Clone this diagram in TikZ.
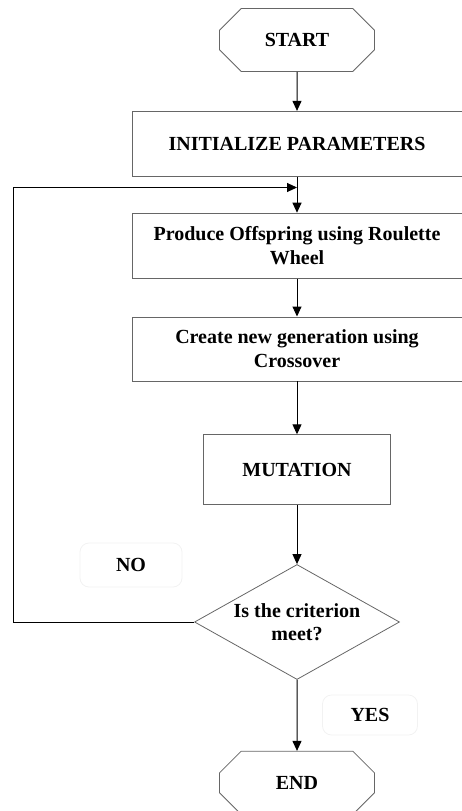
\documentclass[tikz,border=0pt]{standalone}
\usepackage{fontspec}
\setmainfont{Liberation Serif}
\usetikzlibrary{positioning,shapes.geometric,shapes.misc,arrows.meta,calc}

\newcommand{\lblfont}{\bfseries\fontsize{20}{23.5}\selectfont}

\tikzset{
  term/.style={chamfered rectangle, chamfered rectangle sep=15pt, draw=black!60, line width=0.8pt, minimum width=155pt, minimum height=63pt, inner sep=0pt, font=\lblfont},
  proc/.style={rectangle, draw=black!60, line width=0.8pt, minimum width=330pt, minimum height=65pt, align=center, font=\lblfont},
  decide/.style={diamond, aspect=1.78, draw=black!60, line width=0.8pt, minimum width=205pt, minimum height=115pt, inner sep=0pt, align=center, font=\lblfont},
  tag/.style={rectangle, rounded corners=9pt, draw=black!5, line width=0.8pt, font=\lblfont},
  flow/.style={-{Triangle[length=10pt,width=9pt]}, line width=1pt, black},
}

\begin{document}
\begin{tikzpicture}[x=1pt,y=1pt]
  \useasboundingbox (0,0) rectangle (462,-811);

        \node[term]   (start)   at (297,-40) {START}; %
        \node[proc, below = 39pt of start]   (init)   {INITIALIZE PARAMETERS}; %
        \node[proc, below = 36pt of init]   (offspring)   {Produce Offspring using Roulette\\Wheel}; %
        \node[proc, below = 38pt of offspring, minimum height=64pt]   (crossover)   {Create new generation using\\Crossover}; %
        \node[proc, below = 53pt of crossover, minimum width=187pt, minimum height=70pt]   (mutation)   {MUTATION}; %
        \node[decide, below = 59pt of mutation]   (crit)   {Is the criterion\\meet?}; %
        \node[term, below = 71pt of crit]   (stop)   {END}; %

       % labels
        \node[tag, minimum width=102pt, minimum height=44pt] (no) at (131,-565) {NO};
        \node[tag, minimum width=95pt, minimum height=40pt] (yes) at (370,-715) {YES};

        \coordinate (join) at ($(init.south)!0.3!(offspring.north)$);
        \coordinate (back) at (13,0 |- crit.west);

        \draw[flow] (start) -- (init);
        \draw[flow] (init) -- (offspring);
        \draw[flow] (offspring) -- (crossover);
        \draw[flow] (crossover) -- (mutation);
        \draw[flow] (mutation) -- (crit);
        \draw[flow] (crit) -- (stop);
  %      loop back when not met
        \draw[flow] (crit.west) -- (back) |- (join);

\end{tikzpicture}
\end{document}
